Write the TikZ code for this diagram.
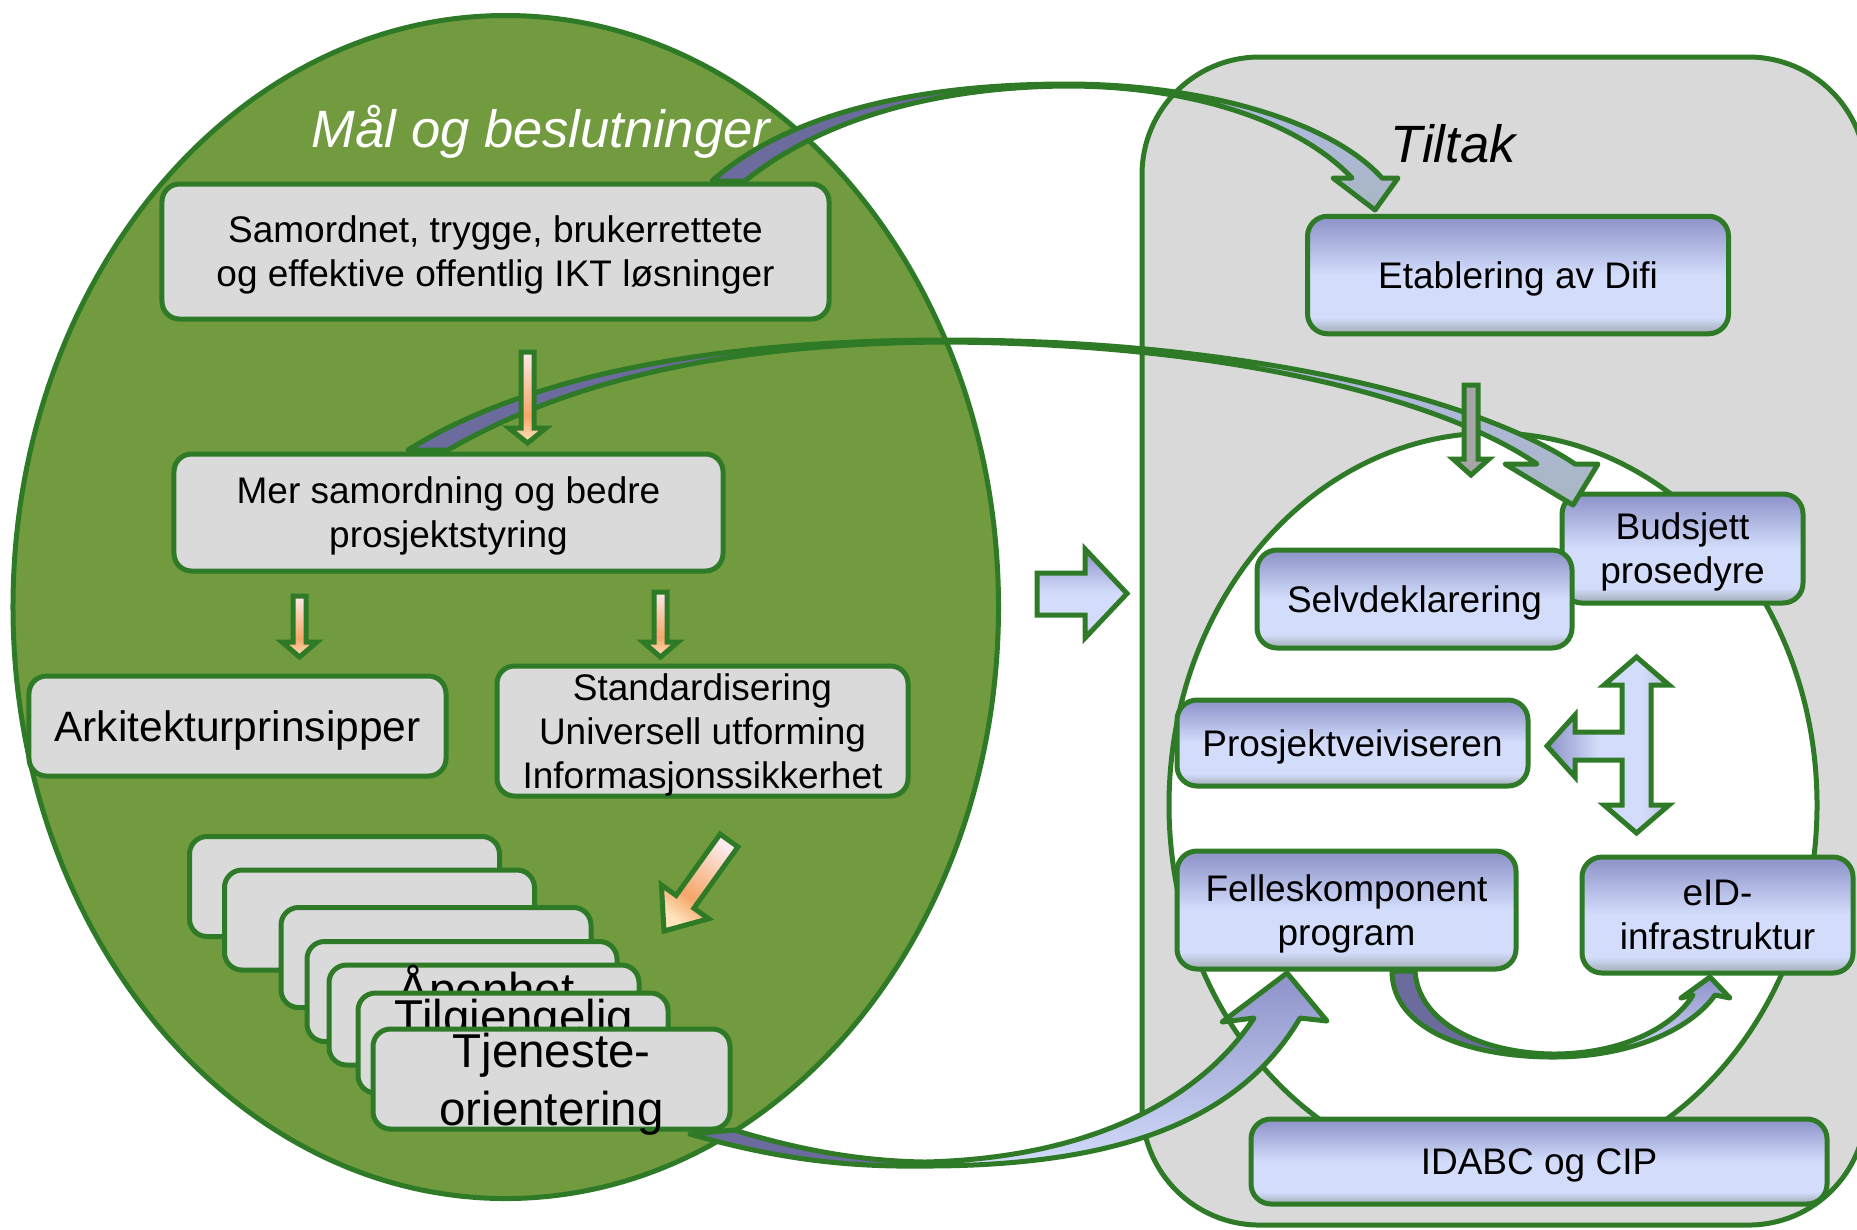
\documentclass[tikz,border=0pt]{standalone}
\usepackage{fontspec}
\setmainfont{Liberation Sans}
\usetikzlibrary{shapes.geometric}
\definecolor{gborder}{RGB}{46,122,39}
\definecolor{gfill}{RGB}{113,155,62}
\definecolor{boxgray}{RGB}{218,218,218}
\definecolor{panelgray}{RGB}{217,217,217}
\definecolor{bdark}{RGB}{140,145,200}
\definecolor{blight}{RGB}{211,221,251}
\definecolor{bgray}{RGB}{160,170,178}
\definecolor{bgraytwo}{RGB}{184,192,214}
\definecolor{purp}{RGB}{107,107,158}
\definecolor{orone}{RGB}{253,234,238}
\definecolor{ortwo}{RGB}{245,166,106}
\definecolor{ortwob}{RGB}{248,196,160}
\definecolor{orthree}{RGB}{255,228,190}
\definecolor{arrgray}{RGB}{166,166,166}
\definecolor{ribtop}{RGB}{178,186,234}
\definecolor{ribbot}{RGB}{168,182,192}
\pgfdeclareverticalshading{boxshade}{100bp}{color(0bp)=(bgray); color(25bp)=(bgray); color(32bp)=(blight); color(50bp)=(blight); color(75bp)=(bdark); color(100bp)=(bdark)}
\pgfdeclareverticalshading{orshade}{100bp}{color(0bp)=(orthree); color(25bp)=(orthree); color(40bp)=(ortwo); color(56bp)=(ortwob); color(75bp)=(orone); color(100bp)=(orone)}
\pgfdeclarehorizontalshading{tshade}{100bp}{color(0bp)=(bdark); color(25bp)=(bdark); color(46bp)=(blight); color(64bp)=(blight); color(75bp)=(bgraytwo); color(100bp)=(bgraytwo)}
\tikzset{
  graybox/.style={draw=gborder, line width=2pt, fill=boxgray, rounded corners=7pt, inner sep=0pt, align=center, text depth=0pt, font=\fontsize{14.8}{17.6}\selectfont},
  bluebox/.style={draw=gborder, line width=2pt, shade, shading=boxshade, rounded corners=8pt, inner sep=0pt, align=center, text depth=0pt, font=\fontsize{14.8}{17.6}\selectfont},
  card/.style={graybox, minimum width=124pt, minimum height=40pt},
  cardtext/.style={anchor=base, inner sep=0pt, font=\fontsize{19}{23.2}\selectfont},
  orarrow/.style={draw=gborder, line width=2pt, shade, shading=orshade, line join=miter},
  blockarrow/.style={draw=gborder, line width=2pt, shade, shading=boxshade, line join=miter},
  ribbon/.style={draw=gborder, line width=2pt, line join=round},
}
\begin{document}
\begin{tikzpicture}[x=0.4pt,y=-0.4pt]
\useasboundingbox (0,0) rectangle (1857,1229);

% right panel
\node[draw=gborder, line width=2pt, fill=panelgray, rounded corners=47pt, minimum width=289.6pt, minimum height=467.2pt, inner sep=0pt] (panel) at (1504,641) {};
\node[ellipse, draw=gborder, line width=2pt, fill=white, minimum width=259.2pt, minimum height=297.6pt, inner sep=0pt] (inner) at (1493,805) {};

% right boxes
\node[bluebox, minimum width=168.4pt, minimum height=47pt] (difi) at (1518,275) {Etablering av Difi};
\node[bluebox, minimum width=96.4pt, minimum height=43.6pt] (budsjett) at (1682.5,548.5) {Budsjett\\prosedyre};
\node[bluebox, minimum width=126pt, minimum height=39.2pt] (selv) at (1414.5,599) {Selvdeklarering};
\node[bluebox, minimum width=140.4pt, minimum height=34.4pt] (veiv) at (1352.5,743) {Prosjektveiviseren};
\node[bluebox, minimum width=135.6pt, minimum height=47.2pt] (felles) at (1346.5,910) {Felleskomponent\\program};
\node[bluebox, minimum width=108.4pt, minimum height=46.4pt] (eid) at (1717.5,915) {eID-\\infrastruktur};
\node[bluebox, minimum width=230.4pt, minimum height=34pt] (idabc) at (1539,1161.5) {IDABC og CIP};

% left ellipse
\node[ellipse, draw=gborder, line width=2pt, fill=gfill, minimum width=394.2pt, minimum height=473.2pt, inner sep=0pt] (goal) at (505.75,607) {};

% titles
\node[anchor=base, text=white, font=\fontsize{21}{25}\selectfont\itshape, inner sep=0pt] (goaltitle) at (541,147) {Mål og beslutninger};
\node[anchor=base, font=\fontsize{21}{25}\selectfont\itshape, inner sep=0pt] (paneltitle) at (1453,162) {Tiltak};

% curved ribbons
\draw[ribbon, path picture={
   \fill[purp] (600,0) rectangle (1050,300);
   \shade[top color=ribtop, middle color=blight, bottom color=ribbot] (1050,80) rectangle (1420,215);}]
  (712,181) .. controls (780,120) and (900,84) .. (1067,84)
  .. controls (1200,84) and (1330,120) .. (1382,178)
  -- (1398,178) -- (1375,210) -- (1333,178) -- (1352,178)
  .. controls (1300,123) and (1195,86) .. (1067,86)
  .. controls (925,87) and (815,124) .. (745,181) -- cycle;

\draw[ribbon, path picture={
   \fill[purp] (380,300) rectangle (1000,470);
   \shade[top color=ribtop, middle color=blight, bottom color=ribbot] (1000,335) rectangle (1620,510);}]
  (408,450) .. controls (520,380) and (700,340) .. (947,340)
  .. controls (1250,340) and (1480,400) .. (1575,464)
  -- (1598,464) -- (1573,505) -- (1505,464) -- (1537,464)
  .. controls (1450,404) and (1245,344) .. (947,342)
  .. controls (715,343) and (560,385) .. (448,450) -- cycle;

\draw[ribbon, path picture={
   \fill[purp] (660,1100) rectangle (940,1180);
   \shade[top color=bdark, middle color=blight, bottom color=blight] (940,970) rectangle (1335,1170);}]
  (690,1134) .. controls (780,1160) and (850,1167) .. (925,1166)
  .. controls (1120,1166) and (1240,1120) .. (1300,1018)
  -- (1327,1021) -- (1287,973) -- (1222,1022) -- (1254,1018)
  .. controls (1200,1100) and (1090,1158) .. (925,1162)
  .. controls (860,1161) and (800,1150) .. (734,1130) -- cycle;

\draw[ribbon, path picture={
   \fill[purp] (1380,960) rectangle (1560,1065);
   \shade[top color=bdark, bottom color=blight] (1560,975) rectangle (1735,1060);}]
  (1392,971) .. controls (1392,1030) and (1470,1057) .. (1553,1057)
  .. controls (1630,1057) and (1690,1030) .. (1715,995)
  -- (1730,998) -- (1710,977) -- (1681,998) -- (1693,995)
  .. controls (1675,1025) and (1625,1054) .. (1553,1054)
  .. controls (1480,1053) and (1418,1022) .. (1415,971) -- cycle;

% left boxes
\node[graybox, minimum width=266.8pt, minimum height=54pt] (b1) at (495.5,251.5) {Samordnet, trygge, brukerrettete\\og effektive offentlig IKT løsninger};
\node[graybox, minimum width=219.6pt, minimum height=46.8pt] (b2) at (448.5,512.5) {Mer samordning og bedre\\prosjektstyring};
\node[graybox, minimum width=166.8pt, minimum height=40pt, font=\fontsize{17}{20}\selectfont] (b3) at (237.5,726) {Arkitekturprinsipper};
\node[graybox, minimum width=164.4pt, minimum height=52pt] (b4) at (702.5,731) {Standardisering\\Universell utforming\\Informasjonssikkerhet};

% stacked cards
\node[card] (k1) at (344.5,886.5) {};
\node[card] (k2) at (379.5,920) {};
\node[card] (k3) at (436,957.5) {};
\node[card] (k4) at (462,991.5) {};
\node[card] (k5) at (484,1015) {};
\node[cardtext] (t5) at (486,1006) {Åpenhet};
\node[card] (k6) at (513,1043) {};
\node[cardtext] (t6) at (514,1033) {Tilgjengelig};
\node[card, minimum width=142.8pt] (k7) at (551.5,1079) {};
\node[cardtext] (t7a) at (551.5,1067) {Tjeneste-};
\node[cardtext] (t7b) at (551.5,1125) {orientering};

% orange arrows
\draw[orarrow] (521,352) -- (534,352) -- (534,428) -- (546,428) -- (527.5,443) -- (509,428) -- (521,428) -- cycle;
\draw[orarrow] (293,596) -- (306,596) -- (306,642) -- (317,642) -- (299.5,657) -- (282,642) -- (293,642) -- cycle;
\draw[orarrow] (654,592) -- (667,592) -- (667,642) -- (678,642) -- (660.5,657) -- (643,642) -- (654,642) -- cycle;
\draw[orarrow, shading angle=-36] (720.1,834.1) -- (737.9,846.9) -- (693.9,908.2) -- (708.6,918.7) -- (664,931) -- (661.4,884.9) -- (676.1,895.4) -- cycle;

% gray arrow
\draw[draw=gborder, line width=2pt, fill=arrgray, line join=miter] (1464,385) -- (1478,385) -- (1478,459) -- (1489,459) -- (1471,475) -- (1453,459) -- (1464,459) -- cycle;

% block arrow right
\draw[blockarrow] (1037,573) -- (1085,573) -- (1085,549) -- (1127,593.5) -- (1085,638) -- (1085,615) -- (1037,615) -- cycle;

% T arrow
\draw[draw=gborder, line width=2pt, shade, shading=tshade, line join=miter]
  (1636.5,657) -- (1669,685) -- (1651,685) -- (1651,805) -- (1669,805) -- (1636.5,833)
  -- (1604,805) -- (1622,805) -- (1622,760) -- (1575,760) -- (1575,777) -- (1547,746)
  -- (1575,715) -- (1575,732) -- (1622,732) -- (1622,685) -- (1604,685) -- cycle;
\end{tikzpicture}
\end{document}
